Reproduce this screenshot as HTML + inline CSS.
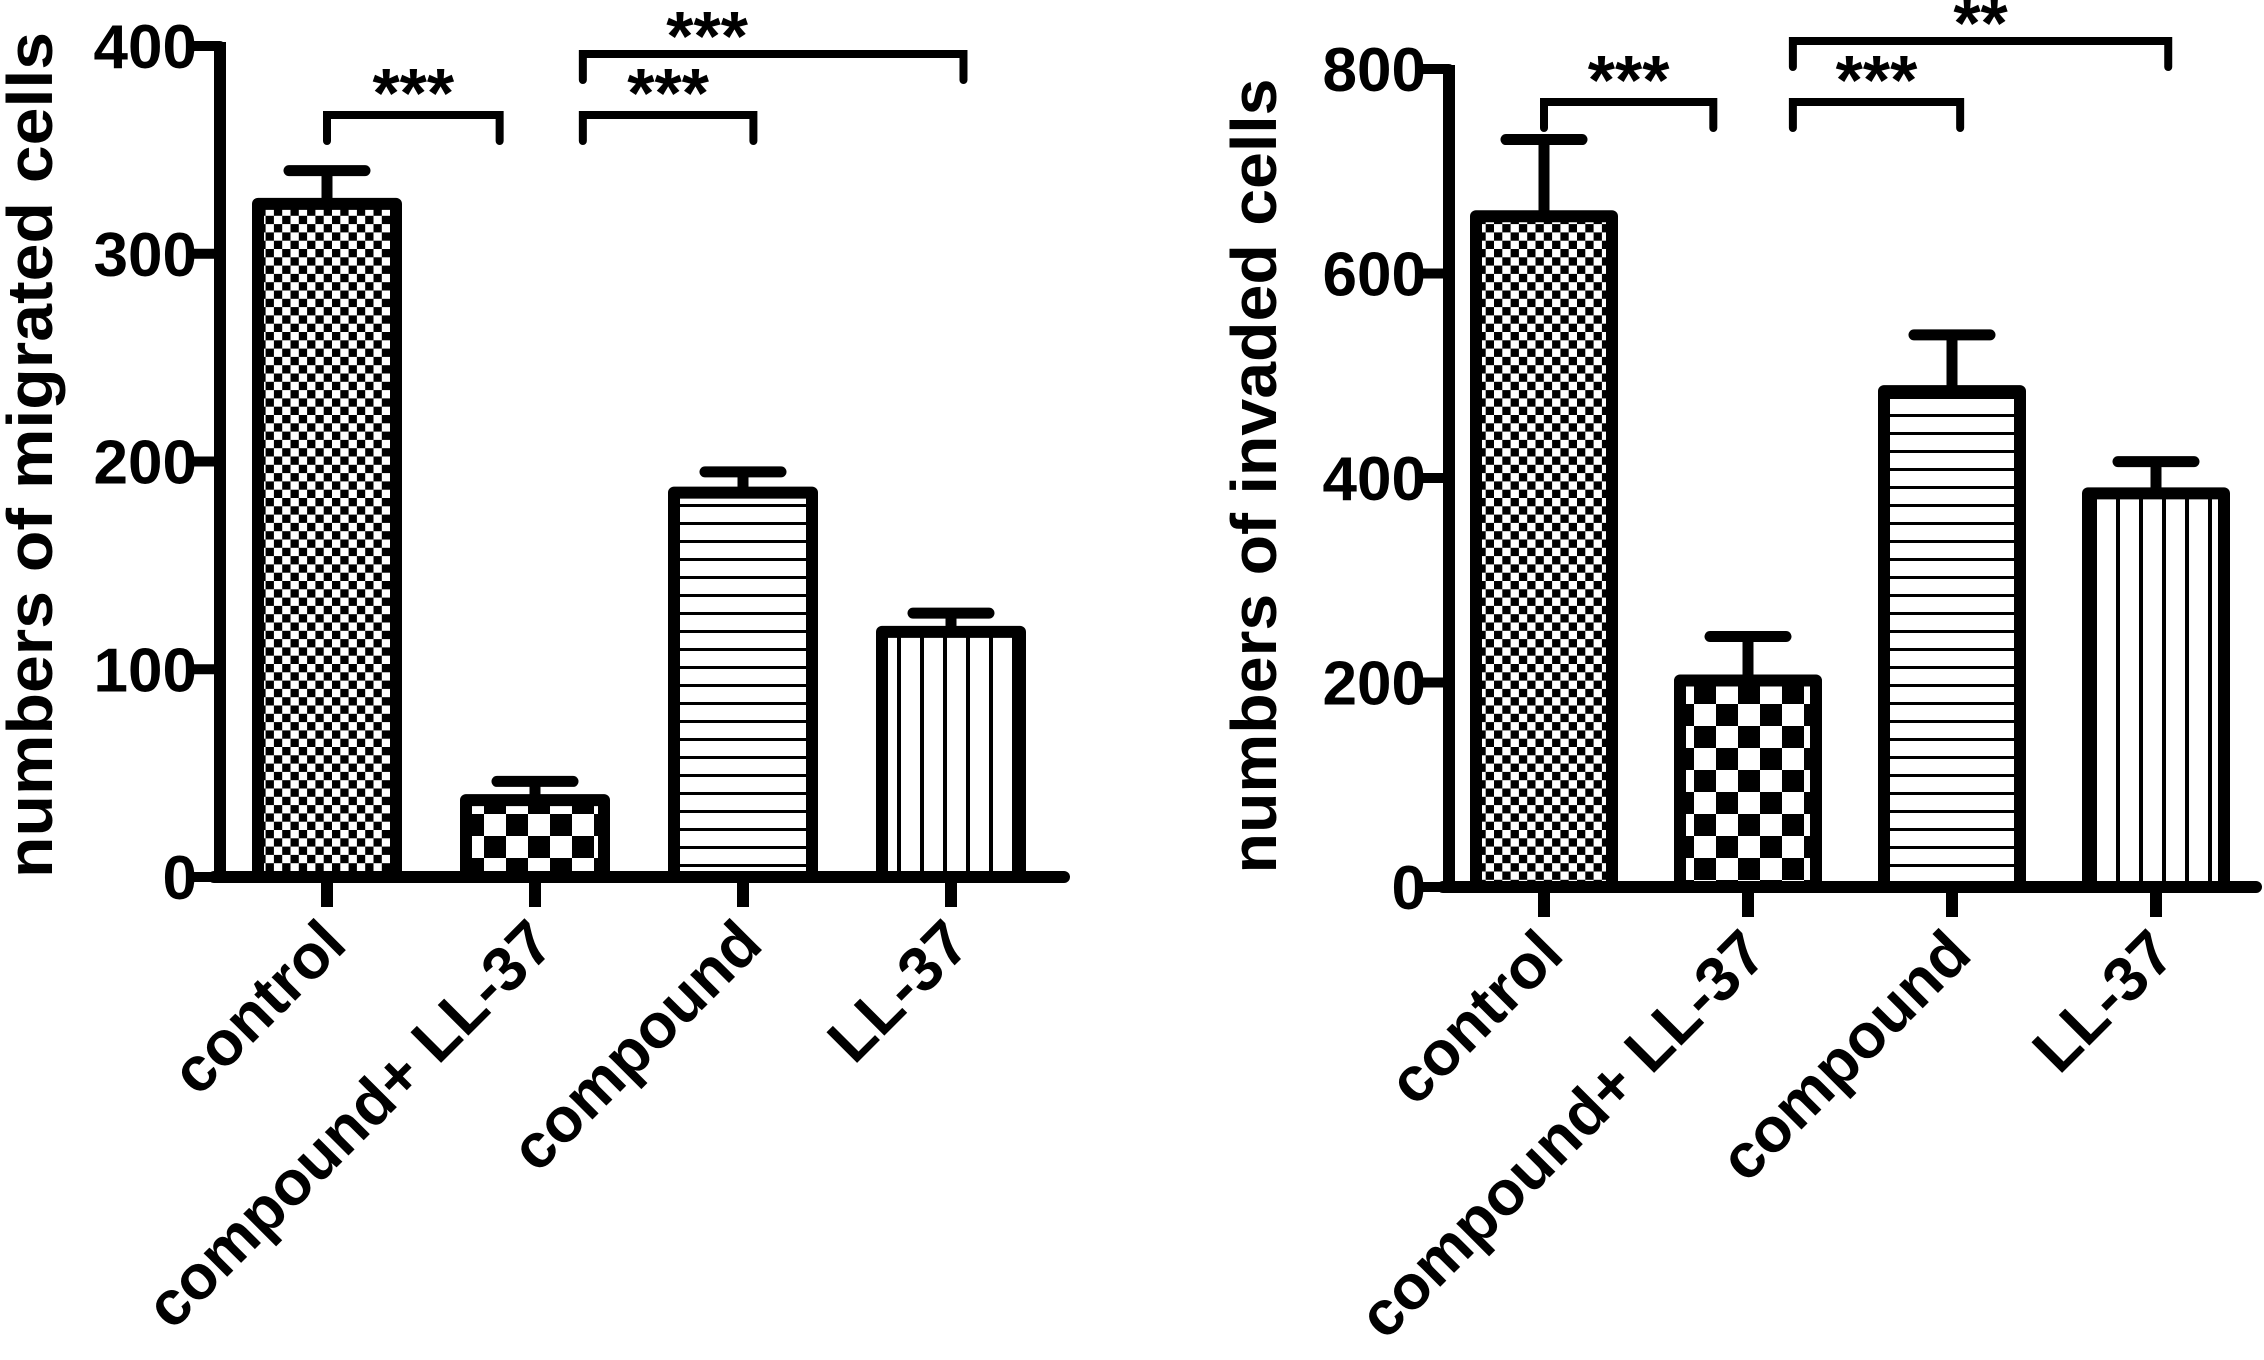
<!DOCTYPE html>
<html><head><meta charset="utf-8"><style>
html,body{margin:0;padding:0;background:#fff;}
svg{display:block;}
text{font-family:"Liberation Sans",Arial,sans-serif;font-weight:bold;fill:#000;}
</style></head><body>
<svg id="chart" width="2264" height="1360" viewBox="0 0 2264 1360" xmlns="http://www.w3.org/2000/svg">
<defs>
<pattern id="pFine" patternUnits="userSpaceOnUse" width="16.6" height="16.6"><rect width="16.6" height="16.6" fill="#fff"/><rect width="8.3" height="8.3" fill="#000"/><rect x="8.3" y="8.3" width="8.3" height="8.3" fill="#000"/></pattern>
<pattern id="pCoarse" patternUnits="userSpaceOnUse" width="44" height="44"><rect width="44" height="44" fill="#fff"/><rect width="22" height="22" fill="#000"/><rect x="22" y="22" width="22" height="22" fill="#000"/></pattern>
<pattern id="pHoriz" patternUnits="userSpaceOnUse" width="18" height="18"><rect width="18" height="18" fill="#fff"/><rect y="0" width="18" height="3" fill="#000"/></pattern>
<pattern id="pVert" patternUnits="userSpaceOnUse" width="23" height="23"><rect width="23" height="23" fill="#fff"/><rect x="0" width="4" height="23" fill="#000"/></pattern>
</defs>
</svg>
<script>
const categories = ["control","compound+ LL-37","compound","LL-37"];
const migratedValues = [324, 37, 185, 118];
const migratedErrors = [340, 46, 195, 127];
const invadedValues = [656, 202, 485, 385];
const invadedErrors = [731, 245, 540, 416];
const migratedTicks = [0,100,200,300,400];
const invadedTicks = [0,200,400,600,800];
// [from index, to index, stars, level]
const migratedSig = [[0,0.83,"***",0],[1.23,2.05,"***",0],[1.23,3.06,"***",1]];
const invadedSig = [[0,0.83,"***",0],[1.22,2.04,"***",0],[1.22,3.06,"**",1]];

const NS="http://www.w3.org/2000/svg";
const svg=document.getElementById('chart');
const fills=["url(#pFine)","url(#pCoarse)","url(#pHoriz)","url(#pVert)"];
function mk(tag,attrs,parent){const e=document.createElementNS(NS,tag);for(const k in attrs)e.setAttribute(k,attrs[k]);(parent||svg).appendChild(e);return e;}

function panel(cfg){
  const g=mk('g',{});
  
  
  const maxV=cfg.ticks[cfg.ticks.length-1];
  const y=v=>cfg.y0-(cfg.y0-cfg.yTop)*v/maxV;
  const x=i=>cfg.x0+cfg.step*i;
  cfg.values.forEach((v,i)=>{
    const cx=x(i);
    const eb=mk('line',{x1:cx,x2:cx,y1:y(v),y2:y(cfg.errors[i]),stroke:'#000','stroke-width':11},g);
    
    
    const cap=mk('line',{x1:cx-38,x2:cx+38,y1:y(cfg.errors[i]),y2:y(cfg.errors[i]),stroke:'#000','stroke-width':11,'stroke-linecap':'round'},g);
    
    
    const r=mk('rect',{x:cx-cfg.bw/2+6,y:y(v),width:cfg.bw-12,height:cfg.y0-y(v),fill:fills[i],stroke:'#000','stroke-width':12,'stroke-linejoin':'round'},g);
    
    
    const t=mk('line',{x1:cx,x2:cx,y1:cfg.y0,y2:cfg.y0+30,stroke:'#000','stroke-width':12},g);
    
    
    const lx=cx+22, ly=cfg.y0+70;
    const lab=mk('text',{x:lx,y:ly,'font-size':63,'text-anchor':'end',transform:`rotate(-45 ${lx} ${ly})`},g);
    lab.textContent=categories[i];
    
    
  });
  const ya=mk('line',{x1:cfg.axisX,x2:cfg.axisX,y1:cfg.yTop-4,y2:cfg.y0+6,stroke:'#000','stroke-width':12},g);
  
  
  const xa=mk('line',{x1:cfg.axisX-6,x2:cfg.xEnd,y1:cfg.y0,y2:cfg.y0,stroke:'#000','stroke-width':12,'stroke-linecap':'round'},g);
  
  
  cfg.ticks.forEach(tv=>{
    const t=mk('line',{x1:cfg.axisX-26,x2:cfg.axisX,y1:y(tv),y2:y(tv),stroke:'#000','stroke-width':10,'stroke-linecap':'round'},g);
    
    
    const l=mk('text',{x:cfg.axisX-23,y:y(tv)+22,'font-size':62,'text-anchor':'end'},g);
    l.textContent=tv;
    
    
  });
  const tx=cfg.titleX, ty=cfg.titleY;
  const title=mk('text',{x:tx,y:ty,'font-size':64,'text-anchor':'middle',transform:`rotate(-90 ${tx} ${ty})`,textLength:cfg.titleLen,lengthAdjust:'spacingAndGlyphs'},g);
  title.textContent=cfg.title;
  
  
  cfg.sig.forEach(s=>{
    const a=x(s[0]), b=x(s[1]);
    const hy=s[3]?cfg.sigY2:cfg.sigY1;
    const br=mk('path',{d:`M${a} ${hy+26} V${hy} H${b} V${hy+26}`,fill:'none',stroke:'#000','stroke-width':8,'stroke-linecap':'round'},g);
    
    
    const off=(s[3] && s[2]==="***")?-66:0;
    const st=mk('text',{x:(a+b)/2+off,y:hy+(s[3]?6:2),'font-size':70,'text-anchor':'middle'},g);
    st.textContent=s[2];
    
    
  });
}
panel({name:'migrated-chart',values:migratedValues,errors:migratedErrors,ticks:migratedTicks,sig:migratedSig,
  axisX:220,y0:877,yTop:46,xEnd:1064,x0:327,step:208,bw:150,title:'numbers of migrated cells',titleX:52,titleY:455,titleLen:846,sigY1:115,sigY2:54});
panel({name:'invaded-chart',values:invadedValues,errors:invadedErrors,ticks:invadedTicks,sig:invadedSig,
  axisX:1449,y0:887,yTop:69,xEnd:2256,x0:1544,step:204,bw:148,title:'numbers of invaded cells',titleX:1276,titleY:476,titleLen:795,sigY1:102,sigY2:41});
</script>
</body></html>
